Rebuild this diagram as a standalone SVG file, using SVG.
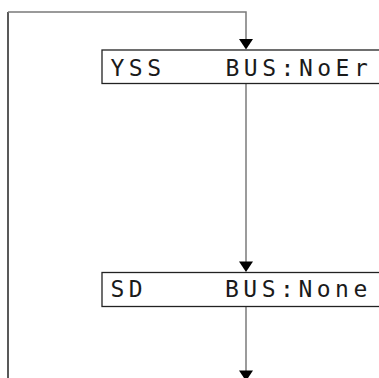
<svg xmlns="http://www.w3.org/2000/svg" width="379" height="378" viewBox="0 0 379 378">
<style>
.conn{fill:none;stroke:#7a7a7a;stroke-width:1.5}
.loop{fill:none;stroke:#222;stroke-width:1.5}
.box{fill:#fff;stroke:#222;stroke-width:1.3}
.lcd{font-family:"DejaVu Sans Mono","Liberation Mono",monospace;font-size:23px;fill:#1a1a1a;letter-spacing:4.5px}
.arr{fill:#000}
</style>
<g id="connectors">
<path class="loop" d="M8,378 V12"/>
<path class="conn" d="M8,12 H246 V40"/>
<polygon class="arr" points="239,39 253,39 246,49.5"/>
<path class="conn" d="M246,84 V262"/>
<polygon class="arr" points="239,261.5 253,261.5 246,272"/>
<path class="conn" d="M246,307 V372"/>
<polygon class="arr" points="239,370.5 253,370.5 246,381"/>
</g>
<g id="node-yss">
<rect class="box" x="102" y="50" width="280" height="33.5"/>
<text class="lcd" x="110.5" y="75.5">YSS</text>
<text class="lcd" x="225.5" y="75.5">BUS:NoEr</text>
</g>
<g id="node-sd">
<rect class="box" x="102" y="272.5" width="280" height="34"/>
<text class="lcd" x="110.5" y="297">SD</text>
<text class="lcd" x="225" y="297">BUS:None</text>
</g>
</svg>
